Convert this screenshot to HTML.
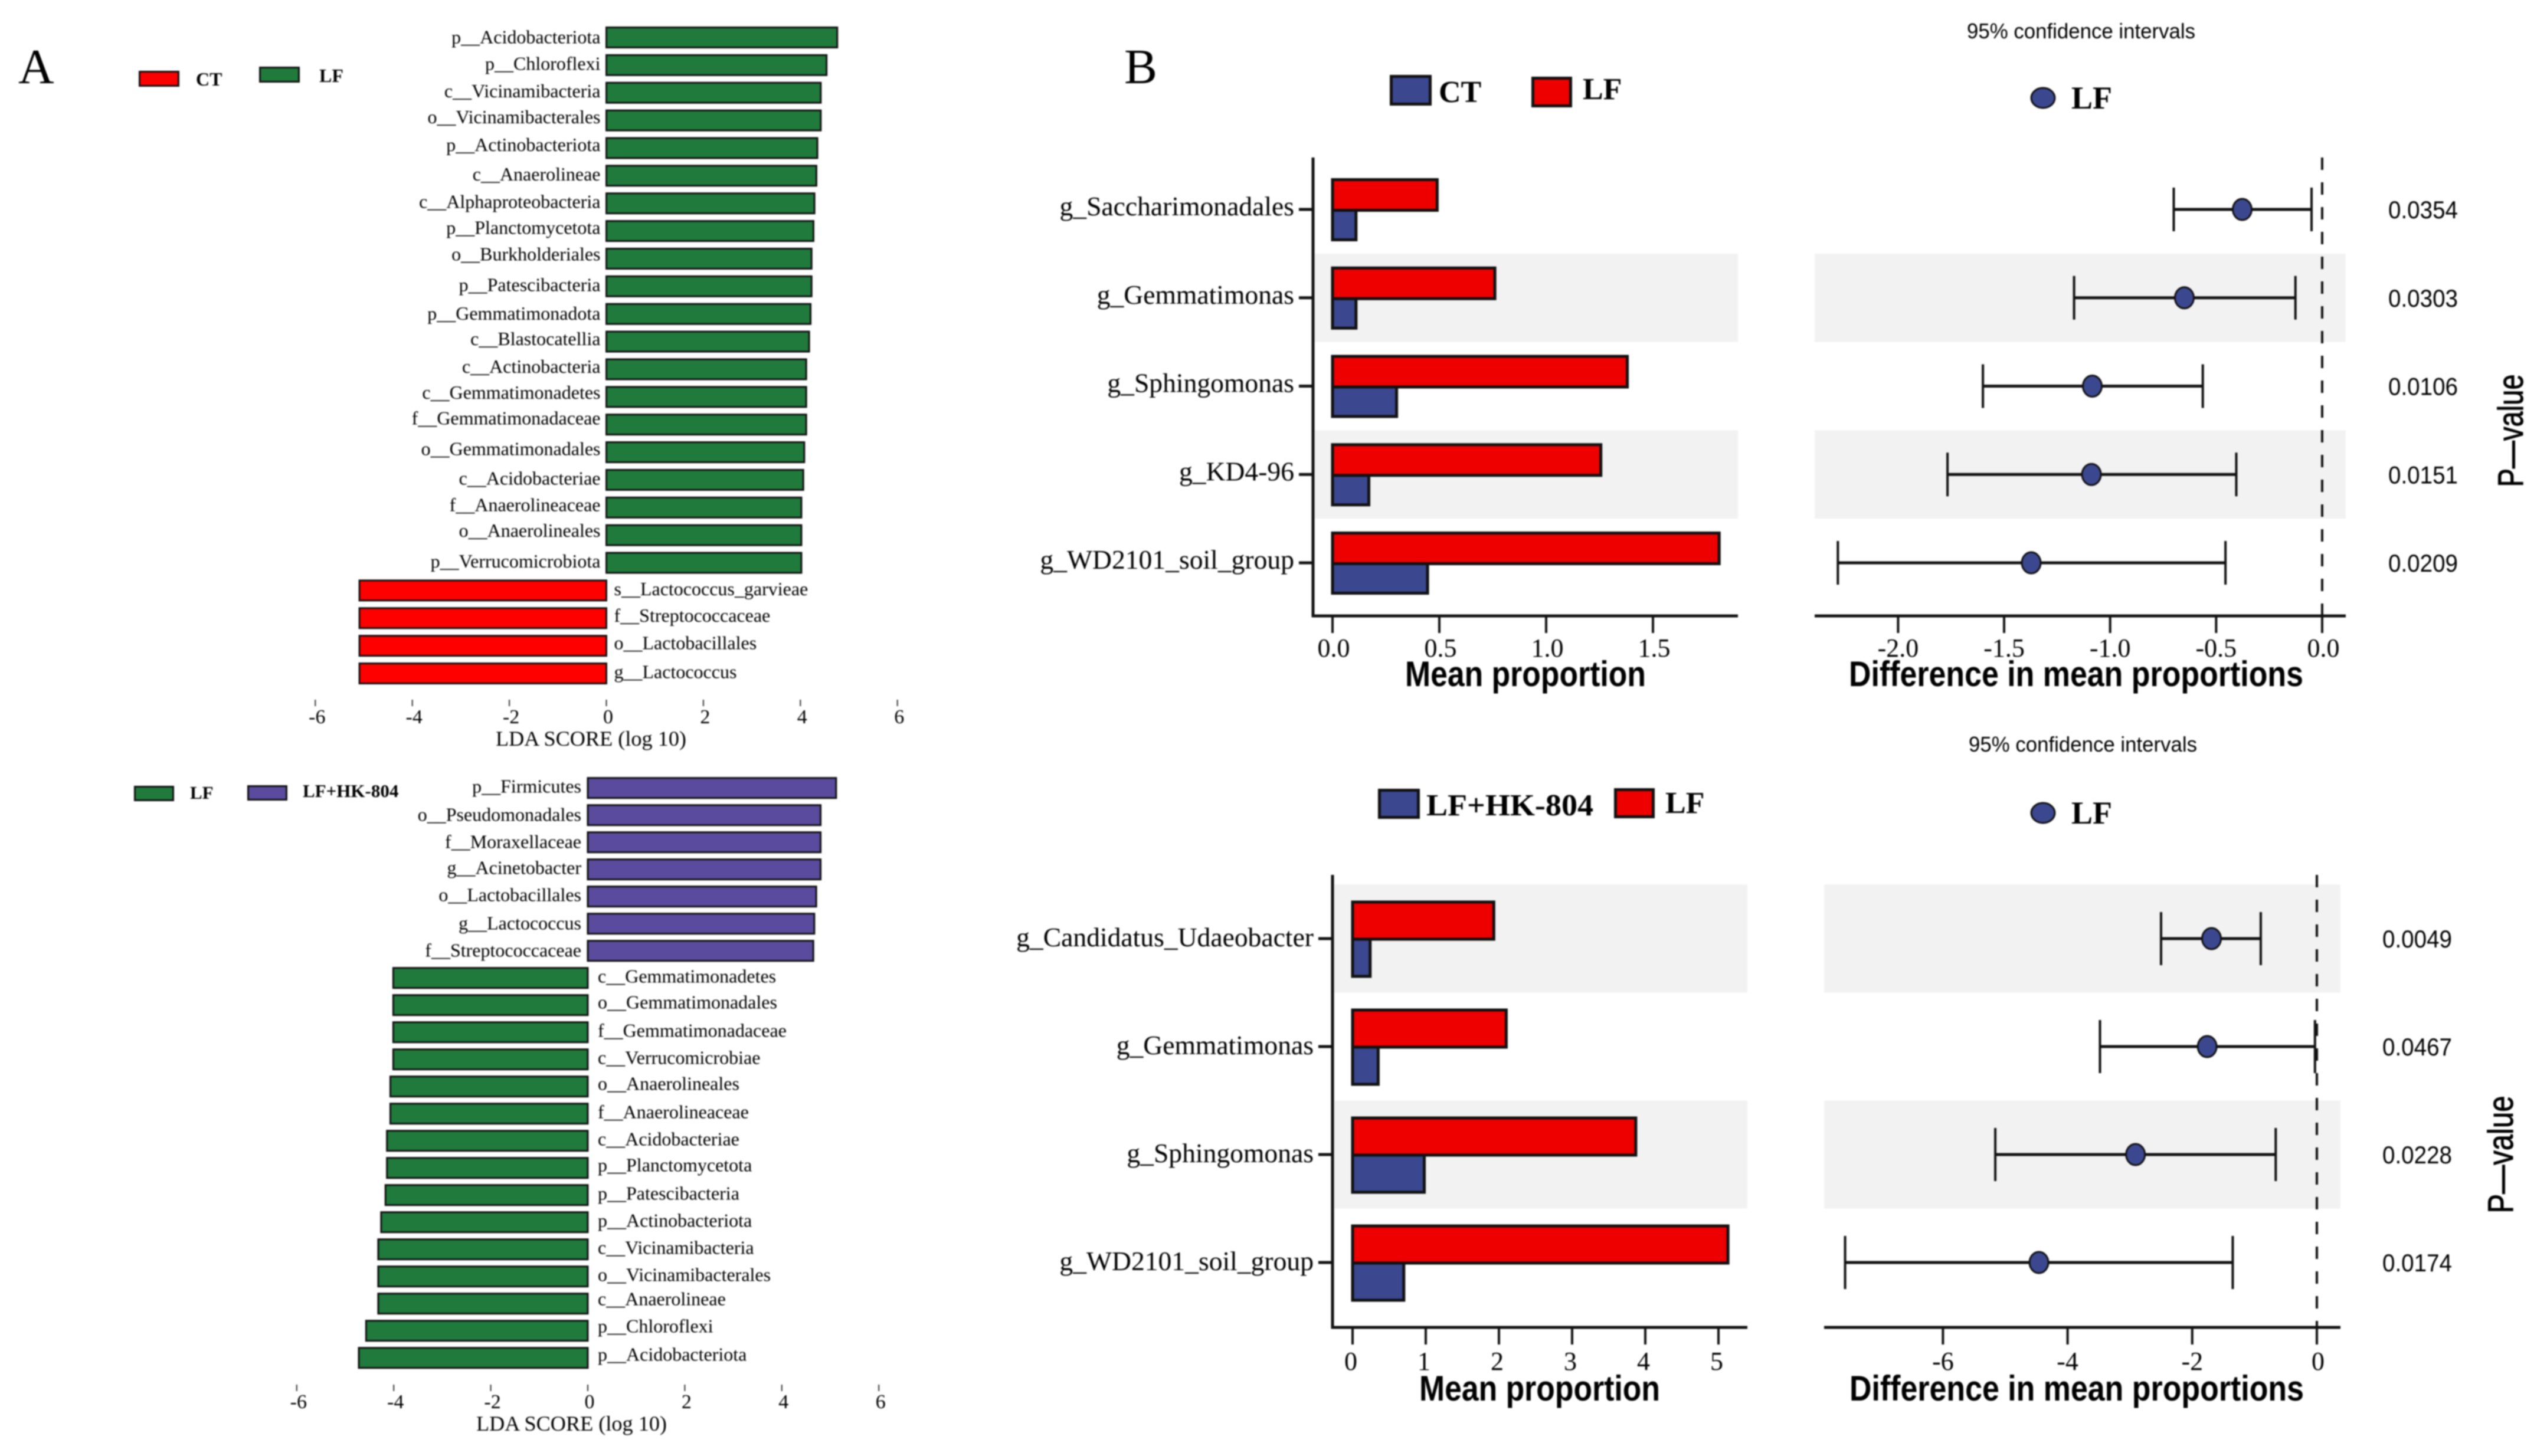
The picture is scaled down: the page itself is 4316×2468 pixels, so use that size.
<!DOCTYPE html>
<html>
<head>
<meta charset="utf-8">
<title>LEfSe LDA scores and mean proportion differences</title>
<style>
html,body{margin:0;padding:0;background:#fff;overflow:hidden;}
svg{display:block;filter:blur(1px);}
text{font-family:"Liberation Serif",serif;fill:#000;}
.sans{font-family:"Liberation Sans",sans-serif;}
</style>
</head>
<body>
<svg id="figure" xmlns="http://www.w3.org/2000/svg" width="4316" height="2468" viewBox="0 0 4316 2468">
<rect x="0" y="0" width="4316" height="2468" fill="#fff"/>
<text x="31" y="141" font-size="84">A</text>
<text x="1905" y="141" font-size="84">B</text>

<g>
<rect x="236.5" y="121.5" width="66" height="24" fill="#fe0000" stroke="#111" stroke-width="3"/>
<text x="332" y="145" font-size="32" font-weight="bold">CT</text>
<rect x="440.5" y="114.5" width="66" height="24" fill="#1f7a3c" stroke="#111" stroke-width="3"/>
<text x="541" y="139" font-size="32" font-weight="bold">LF</text>
</g>
<g>
<rect x="228.5" y="1333.5" width="65" height="23" fill="#1f7a3c" stroke="#111" stroke-width="3"/>
<text x="322" y="1354" font-size="31" font-weight="bold">LF</text>
<rect x="420.5" y="1332.5" width="65" height="23" fill="#5b4b9e" stroke="#111" stroke-width="3"/>
<text x="513" y="1351" font-size="31" font-weight="bold">LF+HK-804</text>
</g>

<g>
<rect x="2357.5" y="129.5" width="66" height="47" fill="#3b4890" stroke="#111" stroke-width="5"/>
<text x="2438" y="173" font-size="52" font-weight="bold">CT</text>
<rect x="2597.5" y="132.5" width="64" height="47" fill="#ee0000" stroke="#111" stroke-width="5"/>
<text x="2682" y="168" font-size="52" font-weight="bold">LF</text>
<ellipse cx="3462" cy="166" rx="20" ry="17" fill="#3b4890" stroke="#111" stroke-width="3"/>
<text x="3510" y="184" font-size="54" font-weight="bold">LF</text>
<text class="sans" x="3333" y="65" font-size="36" textLength="387" lengthAdjust="spacingAndGlyphs">95% confidence intervals</text>
</g>
<g>
<rect x="2337.5" y="1339.5" width="66" height="46" fill="#3b4890" stroke="#111" stroke-width="5"/>
<text x="2417" y="1382" font-size="52" font-weight="bold" textLength="283" lengthAdjust="spacingAndGlyphs">LF+HK-804</text>
<rect x="2737.5" y="1338.5" width="64" height="46" fill="#ee0000" stroke="#111" stroke-width="5"/>
<text x="2822" y="1378" font-size="52" font-weight="bold">LF</text>
<ellipse cx="3462" cy="1378" rx="20" ry="17" fill="#3b4890" stroke="#111" stroke-width="3"/>
<text x="3510" y="1396" font-size="54" font-weight="bold">LF</text>
<text class="sans" x="3336" y="1274" font-size="36" textLength="387" lengthAdjust="spacingAndGlyphs">95% confidence intervals</text>
</g>
</svg>

<script>
// Panel A, upper LDA chart
const ldaTicks = [-6, -4, -2, 0, 2, 4, 6];
const ldaTopLabels = ["p__Acidobacteriota","p__Chloroflexi","c__Vicinamibacteria","o__Vicinamibacterales","p__Actinobacteriota","c__Anaerolineae","c__Alphaproteobacteria","p__Planctomycetota","o__Burkholderiales","p__Patescibacteria","p__Gemmatimonadota","c__Blastocatellia","c__Actinobacteria","c__Gemmatimonadetes","f__Gemmatimonadaceae","o__Gemmatimonadales","c__Acidobacteriae","f__Anaerolineaceae","o__Anaerolineales","p__Verrucomicrobiota","s__Lactococcus_garvieae","f__Streptococcaceae","o__Lactobacillales","g__Lactococcus"];
const ldaTopValues = [4.76,4.54,4.42,4.42,4.35,4.33,4.29,4.27,4.23,4.23,4.21,4.18,4.12,4.12,4.12,4.08,4.06,4.02,4.02,4.02,-5.09,-5.09,-5.09,-5.09];

// Panel A, lower LDA chart
const ldaBottomLabels = ["p__Firmicutes","o__Pseudomonadales","f__Moraxellaceae","g__Acinetobacter","o__Lactobacillales","g__Lactococcus","f__Streptococcaceae","c__Gemmatimonadetes","o__Gemmatimonadales","f__Gemmatimonadaceae","c__Verrucomicrobiae","o__Anaerolineales","f__Anaerolineaceae","c__Acidobacteriae","p__Planctomycetota","p__Patescibacteria","p__Actinobacteriota","c__Vicinamibacteria","o__Vicinamibacterales","c__Anaerolineae","p__Chloroflexi","p__Acidobacteriota"];
const ldaBottomValues = [5.12,4.8,4.8,4.8,4.71,4.67,4.65,-4.01,-4.01,-4.01,-4.01,-4.07,-4.07,-4.14,-4.14,-4.17,-4.26,-4.32,-4.32,-4.32,-4.57,-4.72];

// Panel B, upper comparison (CT vs LF)
const ctCategories = ["g_Saccharimonadales","g_Gemmatimonas","g_Sphingomonas","g_KD4-96","g_WD2101_soil_group"];
const ctMeans = [0.11,0.11,0.30,0.17,0.445];
const ctLfMeans = [0.49,0.76,1.38,1.256,1.81];
const ctDiff = [-0.377,-0.65,-1.084,-1.088,-1.372];
const ctCiLow = [-0.70,-1.17,-1.60,-1.767,-2.284];
const ctCiHigh = [-0.05,-0.126,-0.563,-0.405,-0.456];
const ctPValues = ["0.0354","0.0303","0.0106","0.0151","0.0209"];
const ctMeanTicks = ["0.0","0.5","1.0","1.5"];
const ctDiffTicks = ["-2.0","-1.5","-1.0","-0.5","0.0"];

// Panel B, lower comparison (LF+HK-804 vs LF)
const hkCategories = ["g_Candidatus_Udaeobacter","g_Gemmatimonas","g_Sphingomonas","g_WD2101_soil_group"];
const hkMeans = [0.24,0.35,0.98,0.70];
const hkLfMeans = [1.93,2.10,3.87,5.13];
const hkDiff = [-1.69,-1.76,-2.91,-4.46];
const hkCiLow = [-2.5,-3.48,-5.16,-7.57];
const hkCiHigh = [-0.90,-0.03,-0.66,-1.35];
const hkPValues = ["0.0049","0.0467","0.0228","0.0174"];
const hkMeanTicks = ["0","1","2","3","4","5"];
const hkDiffTicks = ["-6","-4","-2","0"];

const svgNS = 'http://www.w3.org/2000/svg';
const root = document.getElementById('figure');

function make(tag, attrs, parent, text) {
  const node = document.createElementNS(svgNS, tag);
  for (const key in attrs) node.setAttribute(key, attrs[key]);
  if (text !== undefined) node.textContent = text;
  parent.appendChild(node);
  return node;
}

function drawLda(opts, labels, values, ticks, posColor, negColor) {
  const g = make('g', {}, root);
  
  
  const xScale = v => opts.zeroX + v * opts.unit;
  const yScale = i => opts.firstY + i * opts.pitch;
  labels.forEach((label, i) => {
    const v = values[i];
    const x0 = Math.min(xScale(0), xScale(v));
    const w = Math.abs(xScale(v) - xScale(0));
    const bar = make('rect', {x: x0, y: yScale(i) - 17, width: w, height: 34, fill: v >= 0 ? posColor : negColor, stroke: '#111', 'stroke-width': 3}, g);
    
    
    const t = make('text', {
      x: v >= 0 ? opts.zeroX - opts.labelGapPos : opts.zeroX + opts.labelGapNeg,
      y: yScale(i) + 8 + (opts.labelNudge[i] || 0),
      'font-size': 32,
      'text-anchor': v >= 0 ? 'end' : 'start'
    }, g, label);
    
    
  });
  ticks.forEach(v => {
    const tk = make('line', {x1: xScale(v), x2: xScale(v), y1: opts.tickY, y2: opts.tickY + 11, stroke: '#333', 'stroke-width': 2}, g);
    
    
    const tl = make('text', {x: xScale(v) + 3, y: opts.tickY + 40, 'font-size': 34, 'text-anchor': 'middle'}, g, String(v));
    
    
  });
  const title = make('text', {x: opts.titleX, y: opts.tickY + 78, 'font-size': 36, textLength: 323, lengthAdjust: 'spacingAndGlyphs'}, g, 'LDA SCORE (log 10)');
  
  
}

function drawCompare(opts, categories, meansA, meansLf, diff, ciLow, ciHigh, pValues, meanTicks, diffTicks) {
  const g = make('g', {}, root);
  
  
  const xMean = v => opts.meanZero + v * opts.meanUnit;
  const xDiff = v => opts.diffZero + v * opts.diffUnit;
  const yRow = i => opts.firstY + i * opts.pitch;

  categories.forEach((c, i) => {
    if (i % 2 === opts.stripeOn) {
      const s1 = make('rect', {x: opts.axisX + 3, y: yRow(i) - opts.pitch / 2, width: opts.meanEnd - opts.axisX - 3, height: opts.pitch, fill: '#f2f2f2'}, g);
      
      
      const s2 = make('rect', {x: opts.diffStart, y: yRow(i) - opts.pitch / 2, width: opts.diffEnd - opts.diffStart, height: opts.pitch, fill: '#f2f2f2'}, g);
      
      
    }
  });

  const dash = make('line', {x1: xDiff(0), x2: xDiff(0), y1: opts.topY, y2: opts.bottomY, stroke: '#111', 'stroke-width': 4, 'stroke-dasharray': '21 21'}, g);
  
  

  categories.forEach((c, i) => {
    const y = yRow(i);
    const lab = make('text', {x: opts.axisX - 32, y: y + opts.catDy, 'font-size': 45.6, 'text-anchor': 'end'}, g, c);
    
    
    const tk = make('line', {x1: opts.axisX - 24, x2: opts.axisX, y1: y, y2: y, stroke: '#111', 'stroke-width': 5}, g);
    
    
    const a = make('rect', {x: xMean(0), y: y + opts.barMid, width: xMean(meansA[i]) - xMean(0), height: opts.barA, fill: '#3b4890', stroke: '#111', 'stroke-width': 5}, g);
    
    
    const b = make('rect', {x: xMean(0), y: y + opts.barMid - opts.barB, width: xMean(meansLf[i]) - xMean(0), height: opts.barB, fill: '#ee0000', stroke: '#111', 'stroke-width': 5}, g);
    
    
    const ci = make('line', {x1: xDiff(ciLow[i]), x2: xDiff(ciHigh[i]), y1: y, y2: y, stroke: '#111', 'stroke-width': 5}, g);
    
    
    const c1 = make('line', {x1: xDiff(ciLow[i]), x2: xDiff(ciLow[i]), y1: y - opts.cap, y2: y + opts.cap, stroke: '#111', 'stroke-width': 4}, g);
    
    
    const c2 = make('line', {x1: xDiff(ciHigh[i]), x2: xDiff(ciHigh[i]), y1: y - opts.cap, y2: y + opts.cap, stroke: '#111', 'stroke-width': 4}, g);
    
    
    const dot = make('ellipse', {cx: xDiff(diff[i]), cy: y, rx: 16, ry: 18, fill: '#3b4890', stroke: '#111', 'stroke-width': 3}, g);
    
    
    const p = make('text', {x: opts.pX, y: y + 15, 'font-size': 42, class: 'sans', textLength: 118, lengthAdjust: 'spacingAndGlyphs'}, g, pValues[i]);
    
    
  });

  const ay = make('line', {x1: opts.axisX, x2: opts.axisX, y1: opts.topY, y2: opts.bottomY + 2, stroke: '#111', 'stroke-width': 5}, g);
  
  
  const ax1 = make('line', {x1: opts.axisX - 2, x2: opts.meanEnd, y1: opts.bottomY, y2: opts.bottomY, stroke: '#111', 'stroke-width': 5}, g);
  
  
  const ax2 = make('line', {x1: opts.diffStart, x2: opts.diffEnd, y1: opts.bottomY, y2: opts.bottomY, stroke: '#111', 'stroke-width': 5}, g);
  
  

  meanTicks.forEach(label => {
    const v = parseFloat(label);
    const tk = make('line', {x1: xMean(v), x2: xMean(v), y1: opts.bottomY, y2: opts.bottomY + opts.tickLen, stroke: '#111', 'stroke-width': 4}, g);
    
    
    const tl = make('text', {x: xMean(v) + opts.meanLabelDx, y: opts.bottomY + opts.tickText, 'font-size': 44, 'text-anchor': 'middle', textLength: label.length === 1 ? 22 : 55, lengthAdjust: 'spacingAndGlyphs'}, g, label);
    
    
  });
  diffTicks.forEach(label => {
    const v = parseFloat(label);
    const tk = make('line', {x1: xDiff(v), x2: xDiff(v), y1: opts.bottomY, y2: opts.bottomY + opts.tickLen, stroke: '#111', 'stroke-width': 4}, g);
    
    
    const tl = make('text', {x: xDiff(v) + (v === 0 ? 2 : 0), y: opts.bottomY + opts.tickText, 'font-size': 44, 'text-anchor': 'middle'}, g, label);
    
    
  });

  const t1 = make('text', {x: opts.meanTitleX, y: opts.bottomY + opts.titleDy, 'font-size': 60, 'font-weight': 'bold', class: 'sans', textLength: 408, lengthAdjust: 'spacingAndGlyphs'}, g, 'Mean proportion');
  
  
  const t2 = make('text', {x: opts.diffTitleX, y: opts.bottomY + opts.titleDy, 'font-size': 60, 'font-weight': 'bold', class: 'sans', textLength: 770, lengthAdjust: 'spacingAndGlyphs'}, g, 'Difference in mean proportions');
  
  
  const pv = make('text', {x: 0, y: 0, 'font-size': 60, class: 'sans', stroke: '#000', 'stroke-width': 1, textLength: opts.pTitleLen, lengthAdjust: 'spacingAndGlyphs', 'text-anchor': 'middle', transform: 'translate(' + opts.pTitleX + ',' + opts.pTitleY + ') rotate(-90)'}, g, 'P\u2014value');
  
  
}

drawLda({name: 'lda-chart-ct-vs-lf', zeroX: 1027.5, unit: 82.2, firstY: 63.5, pitch: 46.87, labelGapPos: 10, labelGapNeg: 13, tickY: 1186, titleX: 840,
  labelNudge: [2,0,0,-3,-3,0,0,-3,-5,0,2,-2,-2,-5,-8,-3,0,-2,-5,0,0,-2,-2,0]},
  ldaTopLabels, ldaTopValues, ldaTicks, '#1f7a3c', '#fe0000');
drawLda({name: 'lda-chart-lf-vs-hk804', zeroX: 996, unit: 82.2, firstY: 1335.7, pitch: 46, labelGapPos: 11, labelGapNeg: 17, tickY: 2347, titleX: 807,
  labelNudge: [0,2,2,0,0,2,2,0,-2,0,0,-2,0,0,-2,0,0,0,0,-5,-5,-3]},
  ldaBottomLabels, ldaBottomValues, ldaTicks, '#5b4b9e', '#1f7a3c');

drawCompare({name: 'stamp-chart-ct-vs-lf', axisX: 2225, topY: 267, bottomY: 1044, meanEnd: 2945, meanZero: 2258, meanUnit: 362,
  diffStart: 3075, diffEnd: 3975, diffZero: 3935, diffUnit: 359.3, firstY: 355, pitch: 149.75, stripeOn: 1,
  barMid: 1.5, barA: 50, barB: 52, cap: 37, pX: 4047, tickLen: 29, tickText: 69, titleDy: 119, meanLabelDx: 2, catDy: 10,
  meanTitleX: 2381, diffTitleX: 3133, pTitleX: 4275, pTitleY: 730, pTitleLen: 191},
  ctCategories, ctMeans, ctLfMeans, ctDiff, ctCiLow, ctCiHigh, ctPValues, ctMeanTicks, ctDiffTicks);

drawCompare({name: 'stamp-chart-lf-vs-hk804', axisX: 2258, topY: 1483, bottomY: 2250, meanEnd: 2961, meanZero: 2292, meanUnit: 124,
  diffStart: 3091, diffEnd: 3966, diffZero: 3926, diffUnit: 105.6, firstY: 1591, pitch: 183, stripeOn: 0,
  barMid: 1, barA: 63, barB: 63, cap: 45, pX: 4037, tickLen: 29, tickText: 72, titleDy: 124, meanLabelDx: -3, catDy: 13,
  meanTitleX: 2405, diffTitleX: 3134, pTitleX: 4258, pTitleY: 1957, pTitleLen: 199},
  hkCategories, hkMeans, hkLfMeans, hkDiff, hkCiLow, hkCiHigh, hkPValues, hkMeanTicks, hkDiffTicks);
</script>
</body>
</html>
